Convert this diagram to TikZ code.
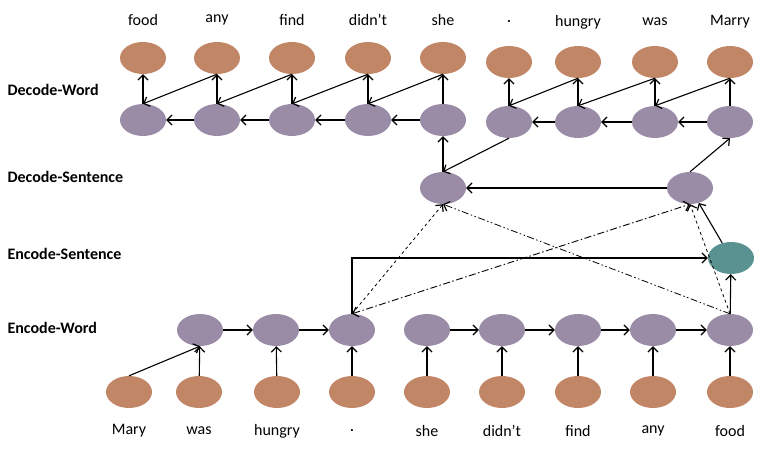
\documentclass[tikz,border=0pt]{standalone}
\usepackage{fontspec}
\setmainfont{Carlito}
\usetikzlibrary{arrows.meta,shapes.geometric}
\definecolor{wrd}{RGB}{192,134,102}
\definecolor{hid}{RGB}{154,140,166}
\definecolor{sent}{RGB}{90,145,145}
\begin{document}
\begin{tikzpicture}[x=1pt,y=-1pt,
  wnode/.style={ellipse,fill=wrd,minimum width=46pt,minimum height=32pt,inner sep=0pt},
  hnode/.style={ellipse,fill=hid,minimum width=46pt,minimum height=32pt,inner sep=0pt},
  snode/.style={ellipse,fill=sent,minimum width=46pt,minimum height=32pt,inner sep=0pt},
  lab/.style={font=\fontsize{16}{18}\selectfont},
  rowlab/.style={font=\bfseries\fontsize{16}{18}\selectfont,anchor=west},
  arr/.style={-{Straight Barb[length=5pt,width=10pt,line width=1.2pt]},line width=1.1pt},
  darr/.style={{Straight Barb[length=5pt,width=10pt,line width=1.2pt]}-{Straight Barb[length=5pt,width=10pt,line width=1.2pt]},line width=0.9pt}]
\useasboundingbox (0,0) rectangle (776,452);
\node[rowlab] (l1) at (4,90) {Decode-Word};
\node[rowlab] (l2) at (4,177) {Decode-Sentence};
\node[rowlab] (l3) at (4,254) {Encode-Sentence};
\node[rowlab] (l4) at (4,328) {Encode-Word};
\foreach \i/\x/\w in {1/129/Mary,2/199/was,3/277/hungry,4/352/\textbf{\Large.},5/427/she,6/502/didn't,7/578/find,8/653/any,9/730/food}{
  \node[wnode] (ew\i) at (\x,392) {};
  \node[lab] (et\i) at (\x,431) {\w};
}
\foreach \i/\x in {1/200,2/276,3/352,4/427,5/502,6/578,7/653,8/730}{
  \node[hnode] (eh\i) at (\x,330) {};
}
\draw[arr] (ew1.north) -- (eh1.south);
\foreach \i/\j in {2/1,3/2,4/3,5/4,6/5,7/6,8/7,9/8}{\draw[arr] (ew\i) -- (eh\j);}
\foreach \i/\j in {1/2,2/3,4/5,5/6,6/7,7/8}{\draw[arr] (eh\i) -- (eh\j);}
\node[snode] (es) at (731,258) {};
\node[hnode] (ds1) at (443,188) {};
\node[hnode] (ds2) at (690,188) {};
\draw[arr] (eh3.north) |- (es.west);
\draw[arr] (eh8) -- (es);
\draw[arr] (es) -- (ds2);
\draw[arr] (ds2) -- (ds1);
\draw[arr,dashed,line width=0.8pt] (eh3.north) -- (ds1.south);
\draw[arr,dashed,line width=0.8pt] (eh8.north) -- (ds2.south);
\draw[darr,dash pattern=on 7pt off 2.5pt on 1.5pt off 2.5pt] (eh3.north) -- (ds2.south);
\draw[arr,line width=0.8pt,dash pattern=on 7pt off 2.5pt on 1.5pt off 2.5pt on 1.5pt off 2.5pt] (eh8.north) -- (ds1.south);
\foreach \i/\x/\w in {1/143/food,2/217/any,3/292/find,4/368/didn't,5/443/she}{
  \node[hnode] (dh\i) at (\x,120) {};
  \node[wnode] (dw\i) at (\x,58) {};
  \node[lab] (dt\i) at (\x,20) {\w};
}
\foreach \i/\x/\w in {6/509/\textbf{\Large.},7/578/hungry,8/655/was,9/730/Marry}{
  \node[hnode] (dh\i) at (\x,122) {};
  \node[wnode] (dw\i) at (\x,62) {};
  \node[lab] (dt\i) at (\x,22) {\w};
}
\foreach \i in {1,...,9}{\draw[arr] (dh\i.north) -- (dw\i.south);}
\foreach \i/\j in {2/1,3/2,4/3,5/4,7/6,8/7,9/8}{
  \draw[arr] (dh\i) -- (dh\j);
  \draw[arr] (dw\i.south) -- (dh\j.north);
}
\draw[arr] (ds1) -- (dh5);
\draw[arr] (dh6.south) -- (ds1.north);
\draw[arr] (ds2.north) -- (dh9.south);
\end{tikzpicture}
\end{document}
